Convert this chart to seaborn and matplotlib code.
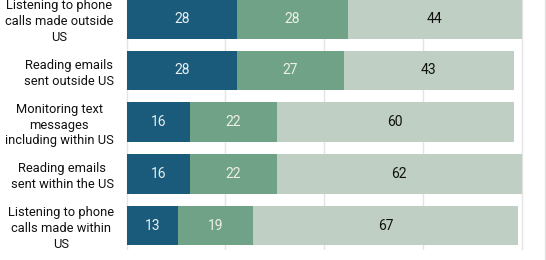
import matplotlib
matplotlib.use("Agg")
import matplotlib.pyplot as plt
import seaborn as sns
import pandas as pd
import numpy as np
from matplotlib.lines import Line2D

categories = [
    "Listening to phone\ncalls made outside\nUS",
    "Reading emails\nsent outside US",
    "Monitoring text\nmessages\nincluding within US",
    "Reading emails\nsent within the US",
    "Listening to phone\ncalls made within\nUS",
]
dark_vals = [28, 28, 16, 16, 13]
mid_vals = [28, 27, 22, 22, 19]
light_vals = [44, 43, 60, 62, 67]

c_dark = "#1a5b7b"
c_mid = "#6fa287"
c_light = "#bfcfc3"

sns.set_theme(style="white")
plt.rcParams["font.family"] = ["Roboto", "DejaVu Sans"]

fig = plt.figure(figsize=(5.46, 2.6), dpi=100)
ax = fig.add_axes([125.5 / 546, 10 / 260, (525.65 - 125.5) / 546, 250 / 260])

dark = np.array(dark_vals)
mid = np.array(mid_vals)
light = np.array(light_vals)
cum2 = dark + mid
cum3 = cum2 + light

df = pd.DataFrame({"cat": categories, "d": dark, "m": cum2, "l": cum3})

for col, colr in [("l", c_light), ("m", c_mid), ("d", c_dark)]:
    sns.barplot(data=df, y="cat", x=col, orient="h", color=colr, width=0.765,
                ax=ax, saturation=1, edgecolor="none", linewidth=0, zorder=2)

ax.set_xlim(-0.3, 101)
ax.set_ylim(4.474, -0.364)
ax.set_xticks([0, 25, 50, 75, 100])
ax.set_xticklabels([])
ax.grid(axis="x", color="#e4e4e4", linewidth=1, zorder=0)
ax.grid(axis="y", visible=False)
ax.set_axisbelow(True)
for s in ax.spines.values():
    s.set_visible(False)
ax.set_xlabel("")
ax.set_ylabel("")
ax.tick_params(axis="both", length=0)
ax.tick_params(axis="y", pad=8.5)
for t in ax.get_yticklabels():
    t.set_fontsize(9.3)
    t.set_multialignment("center")
    t.set_linespacing(1.27)
    t.set_color("#111111")

for i in range(len(categories)):
    ax.text(dark[i] / 2, i, str(dark_vals[i]), ha="center", va="center",
            color="#e8eef0", fontsize=10, zorder=5)
    ax.text(dark[i] + mid[i] / 2, i, str(mid_vals[i]), ha="center", va="center",
            color="#eef0e4", fontsize=10, zorder=5)
    ax.text(cum2[i] + light[i] / 2, i, str(light_vals[i]), ha="center", va="center",
            color="#111111", fontsize=10, zorder=5)

fig.add_artist(Line2D([544.5 / 546, 544.5 / 546], [0, 1], color="#e2e2e2", linewidth=1))

fig.savefig("out.png", dpi=100)
